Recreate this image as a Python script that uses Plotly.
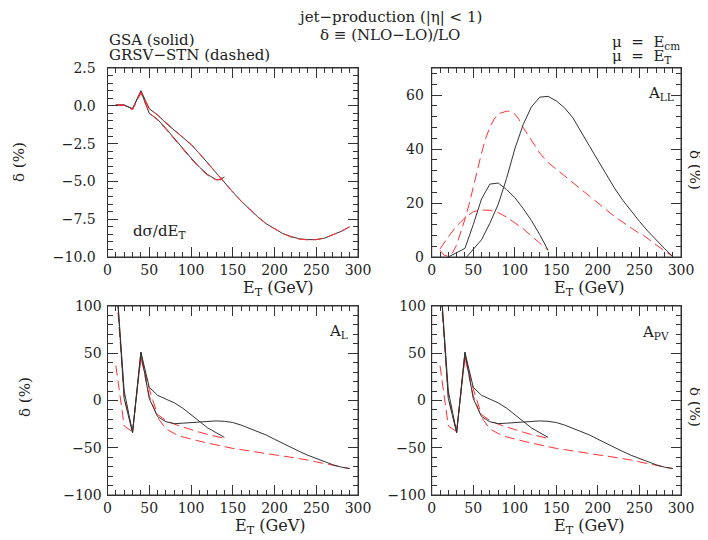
import plotly.graph_objects as go

# ---------------- data ----------------
# top-left: d sigma / dE_T
dsig_short_x = [10, 20, 30, 40, 50, 60, 70, 80, 90, 100, 110, 120, 130, 135, 140]
dsig_short_y = [0.05, 0.05, -0.2, 0.95, -0.5, -0.9, -1.5, -2.15, -2.85, -3.45, -4.05, -4.55, -4.88, -4.9, -4.7]
dsig_long_x = [10, 20, 30, 40, 50, 60, 70, 80, 90, 100, 110, 120, 130, 140, 150, 160, 170, 180, 190,
               200, 210, 220, 230, 240, 250, 260, 270, 280, 290]
dsig_long_y = [0.05, 0.05, -0.2, 1.0, -0.2, -0.6, -1.15, -1.6, -2.05, -2.55, -3.15, -3.8, -4.45, -5.05,
               -5.7, -6.3, -6.85, -7.35, -7.8, -8.15, -8.45, -8.65, -8.8, -8.85, -8.85, -8.75, -8.55, -8.3, -8.0]
dsig_short_red_y = [0.05, 0.03, -0.25, 0.85, -0.45, -0.95, -1.55, -2.2, -2.9, -3.5, -4.1, -4.6, -4.9, -4.85, -4.6]
dsig_long_red_y = [0.05, 0.03, -0.25, 0.9, -0.15, -0.6, -1.1, -1.6, -2.05, -2.55, -3.15, -3.8, -4.45, -5.05,
                   -5.7, -6.3, -6.85, -7.35, -7.8, -8.15, -8.45, -8.68, -8.82, -8.87, -8.85, -8.75, -8.55, -8.3, -8.0]

# top-right: A_LL
all_short_x = [20, 30, 40, 50, 60, 70, 80, 90, 100, 110, 120, 130, 140]
all_short_y = [0.0, 1.5, 3.2, 12.0, 21.5, 27.0, 27.4, 25.0, 22.0, 18.0, 13.5, 8.3, 2.5]
all_long_x = [42, 50, 60, 70, 80, 90, 100, 110, 120, 130, 140, 150, 160, 170, 180, 190, 200, 210, 220,
              230, 240, 250, 260, 270, 280, 290]
all_long_y = [0.0, 3.0, 6.4, 12.5, 19.5, 29.0, 40.0, 49.0, 55.6, 59.2, 59.5, 57.8, 55.2, 51.5, 46.5,
              41.0, 35.8, 30.5, 25.5, 21.0, 17.0, 13.2, 9.6, 6.3, 3.2, 0.2]
all_short_red_x = [10, 20, 30, 40, 50, 60, 70, 80, 90, 100, 110, 120, 130, 140]
all_short_red_y = [3.0, 7.5, 11.5, 14.5, 16.8, 17.4, 17.3, 16.5, 14.8, 12.8, 10.5, 7.8, 5.2, 2.5]
all_long_red_x = [10, 15, 20, 25, 30, 35, 40, 45, 50, 55, 60, 65, 70, 75, 80, 90, 95, 100, 105, 110, 115,
                  120, 130, 140, 150, 160, 175, 190, 205, 220, 235, 250, 255, 270, 290]
all_long_red_y = [2.5, 0.7, 0.2, 1.5, 4.5, 9.0, 14.0, 19.5, 26.0, 32.0, 38.5, 44.0, 48.0, 51.0, 53.0,
                  54.0, 54.0, 53.0, 51.0, 48.0, 45.5, 43.0, 38.5, 35.0, 32.5, 30.0, 26.0, 22.2, 18.5,
                  15.0, 11.8, 8.7, 8.0, 4.5, 0.2]

# bottom: A_L
al_short_x = [10, 20, 30, 40, 50, 60, 70, 80, 90, 100, 110, 120, 130, 140]
al_short_y = [135, 10, -34, 51, 14, 5.5, 1.5, -2.5, -8.0, -15.0, -23.0, -29.0, -34.0, -39.0]
al_long_x = [10, 20, 30, 40, 50, 60, 70, 80, 90, 100, 110, 120, 130, 140, 150, 160, 170, 180, 190,
             200, 210, 220, 230, 240, 250, 260, 270, 280, 290]
al_long_y = [135, 2, -34, 51, 2, -17, -22.5, -24.5, -24, -23.3, -22.5, -22, -21.6, -22, -23.3, -26,
             -29.3, -33, -36.5, -41, -45.5, -50, -54, -58, -61.5, -65, -68, -70.5, -72]
al_short_red_x = [10, 20, 30, 40, 50, 60, 70, 80, 90, 100, 110, 120, 130, 140]
al_short_red_y = [125, 3, -33, 46, 12, -15, -21, -25, -28, -31, -33.5, -36, -38, -40]
al_long_red_x = [10, 15, 20, 30, 40, 50, 60, 70, 80, 90, 100, 110, 120, 130, 140, 150, 160, 170, 180,
                 190, 200, 210, 220, 230, 240, 250, 260, 270, 280, 290]
al_long_red_y = [37, 2, -27, -33, 46, 5, -18, -30, -35, -38.5, -41, -43, -45, -47, -49, -50.7, -52,
                 -53.5, -55, -56.3, -57.5, -58.7, -60, -61.3, -63, -65, -66.5, -68.5, -70.5, -72]

# bottom-right: A_PV
apv_short_x = list(al_short_x)
apv_short_y = [135, 10, -34, 51, 14, 5.5, 1.5, -2.5, -8.0, -15.0, -23.0, -29.0, -34.0, -39.0]
apv_long_x = list(al_long_x)
apv_long_y = [135, 2, -34, 51, 2, -17, -22.5, -24.5, -24, -23.3, -22.5, -22, -21.6, -22, -23.3, -26,
              -29.3, -33, -36.5, -41, -45.5, -50, -54, -58, -61.5, -65, -68, -70.5, -72]
apv_short_red_x = list(al_short_red_x)
apv_short_red_y = [125, 3, -33, 46, 12, -15, -21, -25, -28, -31, -33.5, -36, -38, -40]
apv_long_red_x = list(al_long_red_x)
apv_long_red_y = [37, 2, -27, -33, 46, 5, -18, -30, -35, -38.5, -41, -43, -45, -47, -49, -50.7, -52,
                  -53.5, -55, -56.3, -57.5, -58.7, -60, -61.3, -63, -65, -66.5, -68.5, -70.5, -72]

# ---------------- style ----------------
W, H = 708, 540
OFF = 8  # page body margin of the rendered html
FONT = "DejaVu Serif"
TXT = "#222222"
BLACK = "#333333"
RED = "#ff3030"
DASH = "10px,5px"
NB = "\u00a0"

def px(x):
    return (x - OFF) / W

def py(y):
    return 1 - (y - OFF) / H

fig = go.Figure()

def solid(x, y, ax):
    fig.add_trace(go.Scatter(x=x, y=y, mode="lines", line=dict(color=BLACK, width=1),
                             xaxis="x" + ax, yaxis="y" + ax, showlegend=False, hoverinfo="skip"))

def dashed(x, y, ax):
    fig.add_trace(go.Scatter(x=x, y=y, mode="lines", line=dict(color=RED, width=1, dash=DASH),
                             xaxis="x" + ax, yaxis="y" + ax, showlegend=False, hoverinfo="skip"))

solid(dsig_short_x, dsig_short_y, "")
solid(dsig_long_x, dsig_long_y, "")
dashed(dsig_short_x, dsig_short_red_y, "")
dashed(dsig_long_x, dsig_long_red_y, "")
dashed(all_short_red_x, all_short_red_y, "2")
dashed(all_long_red_x, all_long_red_y, "2")
solid(all_short_x, all_short_y, "2")
solid(all_long_x, all_long_y, "2")
dashed(al_short_red_x, al_short_red_y, "3")
dashed(al_long_red_x, al_long_red_y, "3")
solid(al_short_x, al_short_y, "3")
solid(al_long_x, al_long_y, "3")
dashed(apv_short_red_x, apv_short_red_y, "4")
dashed(apv_long_red_x, apv_long_red_y, "4")
solid(apv_short_x, apv_short_y, "4")
solid(apv_long_x, apv_long_y, "4")

tickfont = dict(family=FONT, size=14, color=TXT)

def xaxis(domain, anchor):
    return dict(domain=domain, anchor=anchor, range=[0, 300], dtick=50, tick0=0,
                ticks="inside", ticklen=10, tickcolor=BLACK, tickwidth=1,
                showline=True, linecolor=BLACK, linewidth=1, mirror="ticks",
                tickfont=tickfont, automargin=False,
                minor=dict(ticks="inside", dtick=10, ticklen=5, tickcolor=BLACK),
                showgrid=False, zeroline=False)

def yaxis(domain, anchor, rng, dtick, mdtick, fmt, standoff):
    return dict(domain=domain, anchor=anchor, range=rng, dtick=dtick, tick0=0,
                tickformat=fmt, ticks="inside", ticklen=10, tickcolor=BLACK, tickwidth=1,
                showline=True, linecolor=BLACK, linewidth=1, mirror="ticks",
                tickfont=tickfont, automargin=False, ticklabelstandoff=standoff,
                minor=dict(ticks="inside", dtick=mdtick, ticklen=5, tickcolor=BLACK),
                showgrid=False, zeroline=False)

dxl = [px(107.5), px(358)]
dxr = [px(431.7), px(681)]
dyt = [py(257), py(68)]
dyb = [py(495), py(306)]

fig.update_layout(
    width=W, height=H,
    margin=dict(l=0, r=0, t=0, b=0, pad=0, autoexpand=False),
    paper_bgcolor="white", plot_bgcolor="rgba(0,0,0,0)",
    xaxis=xaxis(dxl, "y"),
    yaxis=yaxis(dyt, "x", [-10, 2.5], 2.5, 0.5, ".1f", 8),
    xaxis2=xaxis(dxr, "y2"),
    yaxis2=yaxis(dyt, "x2", [0, 70], 20, 4, "d", 4),
    xaxis3=xaxis(dxl, "y3"),
    yaxis3=yaxis(dyb, "x3", [-100, 100], 50, 10, "d", 2),
    xaxis4=xaxis(dxr, "y4"),
    yaxis4=yaxis(dyb, "x4", [-100, 100], 50, 10, "d", 2),
)

# frame boxes drawn on each subplot's domain
for ax in ["", "2", "3", "4"]:
    fig.add_shape(type="rect", xref="x" + ax + " domain", yref="y" + ax + " domain",
                  x0=0, x1=1, y0=0, y1=1, line=dict(color=BLACK, width=1),
                  fillcolor="rgba(0,0,0,0)", layer="above")

def ann(text, x, y, xanchor="center", size=14, angle=0):
    fig.add_annotation(text=text, x=px(x), y=py(y), xref="paper", yref="paper",
                       xanchor=xanchor, yanchor="middle", showarrow=False, textangle=angle,
                       font=dict(family=FONT, size=size, color=TXT))

ann("jet−production (|η| < 1)", 390, 17, size=15)
ann("δ ≡ (NLO−LO)/LO", 390, 35, size=15)
ann("GSA (solid)", 107, 40, "left", size=15)
ann("GRSV−STN (dashed)", 107, 55, "left", size=15)
ann("μ" + NB + NB + "=" + NB + NB + "E<sub>cm</sub>", 610, 42, "left", size=15)
ann("μ" + NB + NB + "=" + NB + NB + "E<sub>T</sub>", 610, 56, "left", size=15)

ann("E<sub>T</sub> (GeV)", 278, 288, size=16)
ann("E<sub>T</sub> (GeV)", 589, 288, size=16)
ann("E<sub>T</sub> (GeV)", 270, 526, size=16)
ann("E<sub>T</sub> (GeV)", 589, 526, size=16)

ann("δ (%)", 19, 162, angle=-90, size=15)
ann("δ (%)", 25, 397, angle=-90, size=15)
ann("δ (%)", 695, 170, angle=90, size=15)
ann("δ (%)", 695, 407, angle=90, size=15)

ann("dσ/dE<sub>T</sub>", 131, 231, "left", size=15)
ann("A<sub>LL</sub>", 646, 93, "left", size=15)
ann("A<sub>L</sub>", 327, 331, "left", size=15)
ann("A<sub>PV</sub>", 640, 332, "left", size=15)

fig.write_html("out.html")
